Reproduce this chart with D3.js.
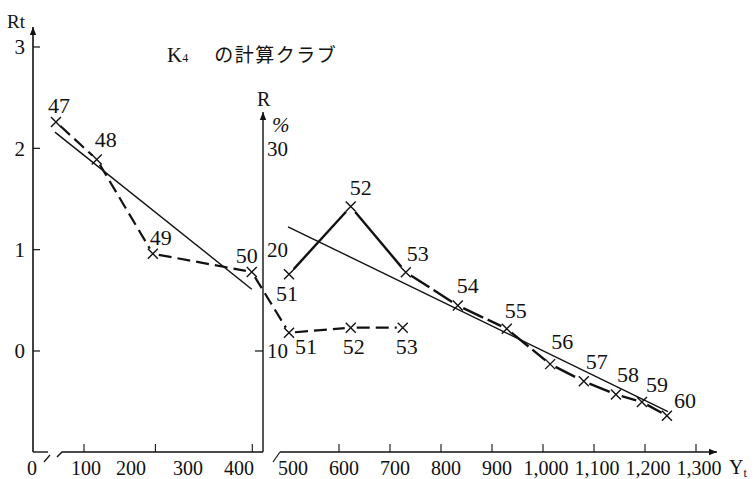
<!DOCTYPE html>
<html>
<head>
<meta charset="utf-8">
<script src="https://cdn.jsdelivr.net/npm/d3@7"></script>
<style>
  body { margin: 0; background: #fff; }
  svg { display: block; }
  text { font-family: "Liberation Serif", "DejaVu Serif", serif; fill: #111; }
</style>
</head>
<body>
<div id="chart"></div>
<script>
// left part: Rt against Yt (years 47-50, then 51-53 on the Rt scale)
const leftYears = ["47", "48", "49", "50"];
const leftYt = [45, 125, 235, 429];
const leftRt = [2.26, 1.89, 0.96, 0.78];

const lowYears = ["51", "52", "53"];
const lowYt = [502, 623, 725];
const lowRt = [0.18, 0.23, 0.23];

// right part: R (%) against Yt (years 51-60)
const rightYears = ["51", "52", "53", "54", "55", "56", "57", "58", "59", "60"];
const rightYt = [502, 623, 731, 833, 929, 1014, 1080, 1143, 1194, 1243];
const rightR = [17.6, 24.3, 17.8, 14.5, 12.2, 8.7, 7.0, 5.7, 4.95, 3.6];

// fitted lines (end points)
const fitLeftYt = [43, 429];
const fitLeftRt = [2.16, 0.61];
const fitRightYt = [500, 1245];
const fitRightR = [22.3, 4.0];

// axis ticks
const rtTicks = [0, 1, 2, 3];
const rTicks = [10, 20, 30];
const ytLabels = [100, 200, 300, 400, 500, 600, 700, 800, 900, 1000, 1100, 1200, 1300];
const ytTickMarks = [100, 240, 430, 600, 700, 800, 900, 1000, 1100, 1200, 1300];

// label placement (pixels from the marker) - layout only
const leftLabelOff = [[3, -17], [9, -20], [8, -16], [-5, -17]];
const lowLabelOff = [[17, 14], [3, 19], [4, 19]];
const rightLabelOff = [[-2, 19], [10, -19], [12, -19], [10, -20], [9, -18], [12, -23], [13, -20], [12, -20], [15, -18], [18, -15]];

const W = 756, H = 479;
const svg = d3.select("#chart").append("svg")
    .attr("width", W)
    .attr("height", H);
svg.append("rect").attr("width", W).attr("height", H).attr("fill", "#fff");

const x = d3.scaleLinear().domain([0, 1300]).range([33, 696]);
const yRt = d3.scaleLinear().domain([0, 3]).range([351, 47]);
const yR = d3.scaleLinear().domain([10, 30]).range([351, 149]);

const axisY = 452;
const rAxisX = 263;
const ink = "#111";

svg.append("defs").append("marker")
    .attr("id", "arrow")
    .attr("viewBox", "0 0 10 10")
    .attr("refX", 10).attr("refY", 5)
    .attr("markerWidth", 10).attr("markerHeight", 8)
    .attr("markerUnits", "userSpaceOnUse")
    .attr("orient", "auto")
  .append("path")
    .attr("d", "M0,1 L10,5 L0,9 Z")
    .attr("fill", ink);

// ---- axes ----
const axes = svg.append("g").attr("stroke", ink).attr("fill", "none");

// Rt axis
axes.append("line")
    .attr("x1", 33).attr("y1", axisY).attr("x2", 33).attr("y2", 27)
    .attr("stroke-width", 1.6).attr("marker-end", "url(#arrow)");
// R axis
axes.append("line")
    .attr("x1", rAxisX).attr("y1", axisY).attr("x2", rAxisX).attr("y2", 112)
    .attr("stroke-width", 1.4).attr("marker-end", "url(#arrow)");

// x axis with breaks
axes.append("line").attr("x1", 33).attr("y1", axisY).attr("x2", 48).attr("y2", axisY).attr("stroke-width", 1.4);
axes.append("line").attr("x1", 44).attr("y1", 462).attr("x2", 50).attr("y2", 455).attr("stroke-width", 1.2);
axes.append("path").attr("d", "M57,457 L62,452 L" + rAxisX + ",452").attr("stroke-width", 1.4);
axes.append("line").attr("x1", 273).attr("y1", 462).attr("x2", 280).attr("y2", 452).attr("stroke-width", 1.2);
axes.append("line")
    .attr("x1", 280).attr("y1", axisY).attr("x2", 717).attr("y2", axisY)
    .attr("stroke-width", 1.4).attr("marker-end", "url(#arrow)");

// ticks
axes.selectAll(".rt-tick").data(rtTicks).enter().append("line")
    .attr("x1", 33).attr("x2", 40)
    .attr("y1", d => yRt(d)).attr("y2", d => yRt(d))
    .attr("stroke-width", 1.2);
axes.append("line")
    .attr("x1", rAxisX - 8).attr("x2", rAxisX)
    .attr("y1", yR(10)).attr("y2", yR(10))
    .attr("stroke-width", 1.2);
axes.selectAll(".yt-tick").data(ytTickMarks).enter().append("line")
    .attr("x1", d => x(d)).attr("x2", d => x(d))
    .attr("y1", axisY).attr("y2", axisY - 8)
    .attr("stroke-width", 1.1);

// tick labels
const fs = 22;
svg.selectAll(".rt-label").data(rtTicks).enter().append("text")
    .attr("x", 25).attr("y", d => yRt(d))
    .attr("dy", "0.35em")
    .attr("text-anchor", "end")
    .style("font-size", "21px")
    .text(d => d);

svg.selectAll(".r-label").data(rTicks).enter().append("text")
    .attr("x", 267).attr("y", d => yR(d))
    .attr("dy", "0.35em")
    .style("font-size", "21px")
    .text(d => d);

svg.selectAll(".yt-label").data(ytLabels).enter().append("text")
    .attr("x", d => x(d) + (d >= 500 && d < 1000 ? 5 : d < 300 && d > 100 ? -4 : d >= 1000 ? 3 : 2))
    .attr("y", 468)
    .attr("dy", "0.35em")
    .attr("text-anchor", "middle")
    .style("font-size", "20px")
    .text(d => d3.format(",")(d));

svg.append("text").attr("x", 32).attr("y", 468).attr("dy", "0.35em")
    .attr("text-anchor", "middle").style("font-size", "20px").text("0");

// axis titles
svg.append("text").attr("x", 7).attr("y", 28).style("font-size", "19px").text("Rt");
svg.append("text").attr("x", 257).attr("y", 106).style("font-size", "20px").text("R");
svg.append("text").attr("x", 272).attr("y", 132).style("font-size", "21px").style("font-style", "italic").text("%");
const ytTitle = svg.append("text").attr("x", 729).attr("y", 474).style("font-size", "20px");
ytTitle.append("tspan").text("Y");
ytTitle.append("tspan").attr("dy", 3).style("font-size", "12px").text("t");

// title
const title = svg.append("text").attr("x", 167).attr("y", 62);
title.append("tspan").style("font-size", "21px").text("K");
title.append("tspan").style("font-size", "12px").text("4");
title.append("tspan")
    .attr("dx", 26)
    .style("font-family", "'Noto Sans CJK JP', sans-serif")
    .style("font-size", "19px")
    .style("letter-spacing", "1.5px")
    .text("の計算クラブ");

// ---- fitted lines ----
const fitLine = svg.append("g").attr("stroke", ink).attr("stroke-width", 1.4).attr("fill", "none");
fitLine.append("line")
    .attr("x1", x(fitLeftYt[0])).attr("y1", yRt(fitLeftRt[0]))
    .attr("x2", x(fitLeftYt[1])).attr("y2", yRt(fitLeftRt[1]));
fitLine.append("line")
    .attr("x1", x(fitRightYt[0])).attr("y1", yR(fitRightR[0]))
    .attr("x2", x(fitRightYt[1])).attr("y2", yR(fitRightR[1]));

// ---- series ----
function pts(xs, ys, yScale) {
  return xs.map((v, i) => [x(v), yScale(ys[i])]);
}

// segments between markers, trimmed so they stop short of the crosses
function drawSegments(points, dash, width, gap) {
  for (let i = 0; i < points.length - 1; i++) {
    const [x1, y1] = points[i], [x2, y2] = points[i + 1];
    const len = Math.hypot(x2 - x1, y2 - y1);
    const ux = (x2 - x1) / len, uy = (y2 - y1) / len;
    svg.append("line")
        .attr("x1", x1 + ux * gap).attr("y1", y1 + uy * gap)
        .attr("x2", x2 - ux * gap).attr("y2", y2 - uy * gap)
        .attr("stroke", ink)
        .attr("stroke-width", width)
        .attr("stroke-dasharray", dash);
  }
}

function drawCrosses(points) {
  const s = 5;
  svg.append("g").selectAll("path").data(points).enter().append("path")
      .attr("d", d => `M${d[0] - s},${d[1] - s}L${d[0] + s},${d[1] + s}M${d[0] - s},${d[1] + s}L${d[0] + s},${d[1] - s}`)
      .attr("stroke", ink)
      .attr("stroke-width", 1.4)
      .attr("fill", "none");
}

function drawLabels(points, names, offs) {
  svg.append("g").selectAll("text").data(points).enter().append("text")
      .attr("x", (d, i) => d[0] + offs[i][0])
      .attr("y", (d, i) => d[1] + offs[i][1])
      .attr("dy", "0.35em")
      .attr("text-anchor", "middle")
      .style("font-size", fs + "px")
      .text((d, i) => names[i]);
}

const leftPts = pts(leftYt, leftRt, yRt);
const lowPts = pts(lowYt, lowRt, yRt);
const rightPts = pts(rightYt, rightR, yR);

// dashed Rt line 47..50 and on to the lower 51..53
drawSegments(leftPts.concat(lowPts), "13,6", 2.2, 6);
// R line: 51-53 heavy solid, 53-60 long dashes
drawSegments(rightPts.slice(0, 3), null, 2.4, 7);
drawSegments(rightPts.slice(2), "22,5", 2.4, 6);

drawCrosses(leftPts);
drawCrosses(lowPts);
drawCrosses(rightPts);

drawLabels(leftPts, leftYears, leftLabelOff);
drawLabels(lowPts, lowYears, lowLabelOff);
drawLabels(rightPts, rightYears, rightLabelOff);
</script>
</body>
</html>
